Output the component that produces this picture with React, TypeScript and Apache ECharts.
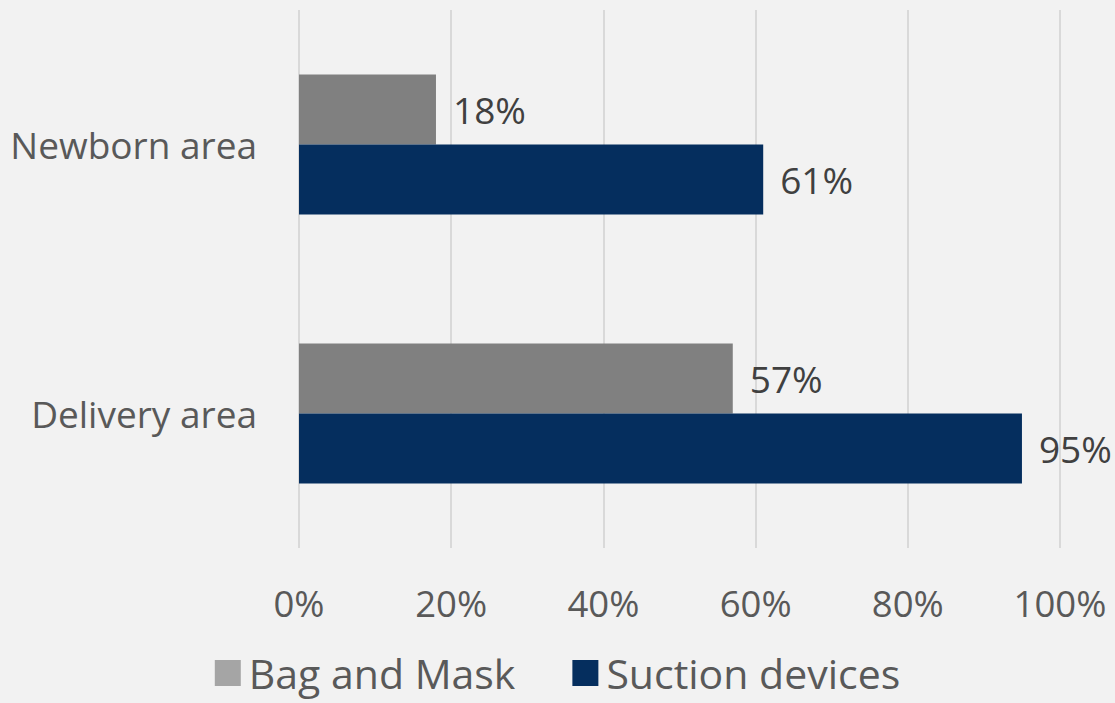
import React, { useEffect, useRef } from "react";
import * as echarts from "echarts";

const categories = ["Delivery area", "Newborn area"];
const bagAndMask = [57, 18];
const suctionDevices = [95, 61];
const seriesNames = ["Bag and Mask", "Suction devices"];

export default function App() {
  const ref = useRef<HTMLDivElement>(null);
  useEffect(() => {
    const chart = echarts.init(ref.current!, null, { renderer: "svg" });
    const font = "'Open Sans', 'Noto Sans', sans-serif";
    chart.setOption({
      animation: false,
      backgroundColor: "#f2f2f2",
      textStyle: { fontFamily: font },
      grid: { left: 299, right: 55, top: 10, bottom: 155, containLabel: false },
      legend: {
        top: 651,
        left: "center",
        padding: 0,
        itemWidth: 26,
        itemHeight: 26,
        itemGap: 57,
        icon: "rect",
        textStyle: { fontSize: 41, lineHeight: 44, color: "#595959", fontFamily: font, padding: [0, 0, 0, 3] },
        data: [
          { name: seriesNames[0], itemStyle: { color: "#a5a5a5" } },
          { name: seriesNames[1], itemStyle: { color: "#052e5e" } },
        ],
      },
      xAxis: {
        type: "value",
        min: 0,
        max: 100,
        interval: 20,
        axisLabel: { formatter: "{value}%", fontSize: 36.5, color: "#595959", margin: 36 },
        splitLine: { lineStyle: { color: "#d9d9d9", width: 2 } },
        axisLine: { show: false },
        axisTick: { show: false },
      },
      yAxis: {
        type: "category",
        data: categories,
        axisLabel: { fontSize: 37, color: "#595959", margin: 42 },
        axisLine: { show: false },
        axisTick: { show: false },
      },
      series: [
        {
          name: seriesNames[0],
          type: "bar",
          data: bagAndMask,
          barWidth: 70,
          barGap: "0%",
          itemStyle: { color: "#808080" },
          label: { show: true, position: "right", distance: 17, formatter: "{c}%", fontSize: 37, color: "#404040" },
        },
        {
          name: seriesNames[1],
          type: "bar",
          data: suctionDevices,
          barWidth: 70,
          barGap: "0%",
          itemStyle: { color: "#052e5e" },
          label: { show: true, position: "right", distance: 17, formatter: "{c}%", fontSize: 37, color: "#404040" },
        },
      ],
    });
    return () => chart.dispose();
  }, []);
  return <div ref={ref} style={{ width: 1115, height: 703, position: "absolute", left: 0, top: 0 }} />;
}
